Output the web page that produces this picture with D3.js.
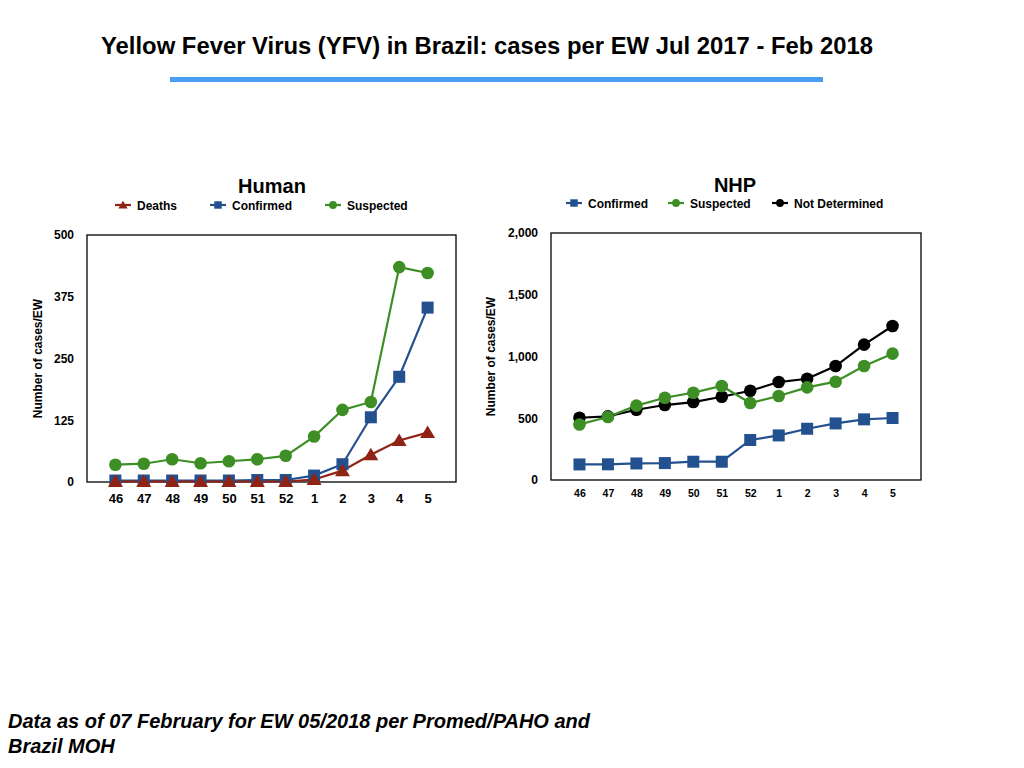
<!DOCTYPE html>
<html><head><meta charset="utf-8">
<script src="https://cdn.jsdelivr.net/npm/d3@7"></script>
<style>
body{margin:0;background:#fff;}
svg{display:block;font-family:"Liberation Sans",Arial,Helvetica,sans-serif;}
</style></head>
<body>
<svg id="c" width="1024" height="768"></svg>
<script>
const weeks = ["46","47","48","49","50","51","52","1","2","3","4","5"];
const humanDeaths    = [1,1,1,1,1,1,1,5,23,55,84,100];
const humanConfirmed = [3,3,3,3,3,4,4,13,36,131,213,353];
const humanSuspected = [35,37,46,38,42,46,53,92,146,162,435,423];
const humanTicks = [0,125,250,375,500];
const nhpConfirmed = [126,127,134,137,148,148,324,361,415,458,491,502];
const nhpSuspected = [450,510,602,666,707,761,623,680,750,796,923,1023];
const nhpNotDetermined = [504,515,569,607,631,674,723,793,820,923,1096,1247];
const nhpTicks = [0,500,1000,1500,2000];

const GREEN="#3d8f25", BLUE="#23508f", RED="#8f2415", BLACK="#000";
const svg = d3.select("#c");

// Title
svg.append("text").attr("x",487).attr("y",54).attr("text-anchor","middle")
  .attr("font-size",23).attr("font-weight","bold").attr("textLength",772)
  .attr("lengthAdjust","spacingAndGlyphs")
  .text("Yellow Fever Virus (YFV) in Brazil: cases per EW Jul 2017 - Feb 2018");
svg.append("rect").attr("x",170).attr("y",77).attr("width",653).attr("height",5).attr("fill","#4a9ef2");

// Footer
const foot = svg.append("text").attr("font-size",20).attr("font-weight","bold").attr("font-style","italic");
foot.append("tspan").attr("x",8).attr("y",728).text("Data as of 07 February for EW 05/2018 per Promed/PAHO and");
foot.append("tspan").attr("x",8).attr("y",753).text("Brazil MOH");

function marker(g, shape, color, x, y, s){
  if(shape==="circle") g.append("circle").attr("cx",x).attr("cy",y).attr("r",6.3*s).attr("fill",color);
  else if(shape==="square") g.append("rect").attr("x",x-6*s).attr("y",y-6*s).attr("width",12*s).attr("height",12*s).attr("fill",color);
  else g.append("path").attr("d",`M${x},${y-7*s}L${x+7.5*s},${y+5.5*s}L${x-7.5*s},${y+5.5*s}Z`).attr("fill",color);
}

function chart(cfg){
  const g = svg.append("g");
  const x = d3.scalePoint().domain(weeks).range([cfg.x0,cfg.x1]).padding(1);
  const y = d3.scaleLinear().domain([0,cfg.max]).range([cfg.y1,cfg.y0]);
  g.append("rect").attr("x",cfg.x0).attr("y",cfg.y0).attr("width",cfg.x1-cfg.x0).attr("height",cfg.y1-cfg.y0)
    .attr("fill","none").attr("stroke","#000").attr("stroke-width",1.3);
  // y axis
  const ya = g.append("g").attr("transform",`translate(${cfg.x0},0)`)
    .call(d3.axisLeft(y).tickValues(cfg.ticks).tickSize(0).tickPadding(cfg.ypad).tickFormat(cfg.fmt));
  ya.select(".domain").remove();
  ya.selectAll("text").attr("font-size",cfg.yfs).attr("font-weight","bold").attr("font-family","Liberation Sans, Arial, sans-serif");
  const xa = g.append("g").attr("transform",`translate(0,${cfg.y1})`)
    .call(d3.axisBottom(x).tickSize(0).tickPadding(cfg.xpad));
  xa.select(".domain").remove();
  xa.selectAll("text").attr("font-size",cfg.xfs).attr("font-weight","bold").attr("font-family","Liberation Sans, Arial, sans-serif");
  // y label
  g.append("text").attr("transform",`translate(${cfg.ylx},${(cfg.y0+cfg.y1)/2}) rotate(-90)`)
    .attr("text-anchor","middle").attr("font-size",12).attr("font-weight","bold").text("Number of cases/EW");
  // title
  g.append("text").attr("x",cfg.tx).attr("y",cfg.ty).attr("text-anchor","middle").attr("font-size",20)
    .attr("font-weight","bold").text(cfg.title);
  // series
  const line = d3.line().x((d,i)=>x(weeks[i])).y(d=>y(d));
  cfg.series.forEach(s=>{
    g.append("path").attr("d",line(s.data)).attr("fill","none").attr("stroke",s.color).attr("stroke-width",2.2);
  });
  cfg.series.forEach(s=>{
    s.data.forEach((v,i)=>marker(g,s.shape,s.color,x(weeks[i]),y(v),1));
  });
  // legend
  cfg.series.slice().sort((a,b)=>a.lx-b.lx).forEach(s=>{
    g.append("line").attr("x1",s.lx-8).attr("x2",s.lx+8).attr("y1",cfg.ly).attr("y2",cfg.ly).attr("stroke",s.color).attr("stroke-width",2.2);
    marker(g,s.shape,s.color,s.lx,cfg.ly,0.62);
    g.append("text").attr("x",s.lx+14).attr("y",cfg.ly+4.5).attr("font-size",12).attr("font-weight","bold").text(s.name);
  });
}

chart({x0:87,x1:456,y0:235,y1:482,max:500,ticks:humanTicks,fmt:d3.format("d"),ypad:13,xpad:12,yfs:12,xfs:13,
  ylx:42,tx:272,ty:193,title:"Human",ly:205,
  series:[
    {name:"Suspected",data:humanSuspected,color:GREEN,shape:"circle",lx:333},
    {name:"Confirmed",data:humanConfirmed,color:BLUE,shape:"square",lx:218},
    {name:"Deaths",data:humanDeaths,color:RED,shape:"triangle",lx:123}
  ]});

chart({x0:551,x1:921,y0:233,y1:480,max:2000,ticks:nhpTicks,fmt:d3.format(","),ypad:13,xpad:10,yfs:12,xfs:10.5,
  ylx:495,tx:735,ty:192,title:"NHP",ly:203,
  series:[
    {name:"Not Determined",data:nhpNotDetermined,color:BLACK,shape:"circle",lx:780},
    {name:"Suspected",data:nhpSuspected,color:GREEN,shape:"circle",lx:676},
    {name:"Confirmed",data:nhpConfirmed,color:BLUE,shape:"square",lx:574}
  ]});
</script>
</body></html>
